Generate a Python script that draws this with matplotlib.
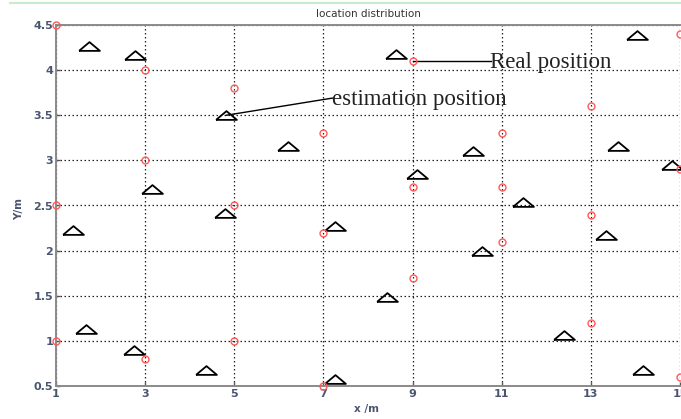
import matplotlib
matplotlib.use("Agg")
import matplotlib.pyplot as plt
from matplotlib.lines import Line2D

# Real positions (red circles)
real_x = [1, 3, 5, 3, 7, 1, 5, 7, 9, 9, 9, 11, 11, 11, 13, 13, 13, 15, 15, 15, 1, 3, 5, 7]
real_y = [4.5, 4.0, 3.8, 3.0, 3.3, 2.5, 2.5, 2.2, 4.1, 2.7, 1.7, 3.3, 2.7, 2.1, 3.6, 2.4, 1.2, 4.4, 2.9, 0.6, 1.0, 0.8, 1.0, 0.5]

# Estimated positions (triangles)
est_x = [1.74, 2.78, 4.82, 6.21, 3.16, 1.38, 4.80, 7.27, 8.62, 9.11, 10.35, 11.47, 10.55, 8.42,
         14.03, 13.60, 14.82, 13.34, 12.39, 14.17, 1.67, 2.75, 4.37, 7.27]
est_y = [4.27, 4.17, 3.50, 3.16, 2.68, 2.23, 2.42, 2.27, 4.18, 2.85, 3.10, 2.54, 2.00, 1.49,
         4.39, 3.16, 2.95, 2.17, 1.07, 0.68, 1.13, 0.90, 0.68, 0.58]

x_ticks = [1, 3, 5, 7, 9, 11, 13, 15]
y_ticks = [0.5, 1, 1.5, 2, 2.5, 3, 3.5, 4, 4.5]
y_tick_labels = ["0.5", "1", "1.5", "2", "2.5", "3", "3.5", "4", "4.5"]

fig = plt.figure(figsize=(6.81, 4.19), dpi=100)
ax = fig.add_axes([56/681, 33/419, 624/681, 361/419])

tri = [(-1.0, -0.42), (1.0, -0.42), (0.0, 0.42), (-1.0, -0.42)]
ax.plot(est_x, est_y, linestyle="none", marker=tri, markersize=15,
        markerfacecolor="none", markeredgecolor="black", markeredgewidth=1.3, zorder=3)
ax.plot(real_x, real_y, linestyle="none", marker="o", markersize=5,
        markerfacecolor="none", markeredgecolor="#ff5a5a", markeredgewidth=1.0, zorder=4,
        clip_on=False)

ax.set_xlim(1, 15)
ax.set_ylim(0.5, 4.5)
ax.set_xticks(x_ticks)
ax.set_yticks(y_ticks)
ax.set_yticklabels(y_tick_labels)
ax.grid(True, color="#222222", linestyle=(0, (1.2, 2)), linewidth=0.9)
ax.tick_params(direction="in", length=3, width=1, color="#555555",
               labelsize=8, labelcolor="#4a5570", pad=2)
for lab in ax.get_xticklabels() + ax.get_yticklabels():
    lab.set_fontweight("semibold")
for s in ["left", "bottom", "top"]:
    ax.spines[s].set_color("#8a8a8a")
    ax.spines[s].set_linewidth(1.4)
ax.spines["right"].set_visible(False)

ax.set_xlabel("x /m", fontsize=7.5, color="#4a5570", fontweight="semibold")
ax.set_ylabel("Y/m", fontsize=7.5, color="#4a5570", fontweight="semibold")
ax.xaxis.set_label_coords(311/624, -18/361)
ax.yaxis.set_label_coords(-32/624, 0.49)
ax.set_title("location distribution", fontsize=7.5, color="#333333", pad=6)

# annotations
ax.plot([9, 10.75], [4.1, 4.1], color="black", linewidth=1.0, zorder=2)
ax.text(10.73, 4.09, "Real position", family="Liberation Serif", fontsize=16.5,
        va="center", ha="left", color="#222222")
ax.plot([4.82, 7.2], [3.5, 3.69], color="black", linewidth=1.0, zorder=2)
ax.text(7.2, 3.68, "estimation position", family="Liberation Serif", fontsize=16.5,
        va="center", ha="left", color="#222222")

# green top line
fig.add_artist(Line2D([10/681, 1.0], [1 - 3/419, 1 - 3/419], color="#c8ecc8", linewidth=1.5))

fig.savefig("out.png", dpi=100)
